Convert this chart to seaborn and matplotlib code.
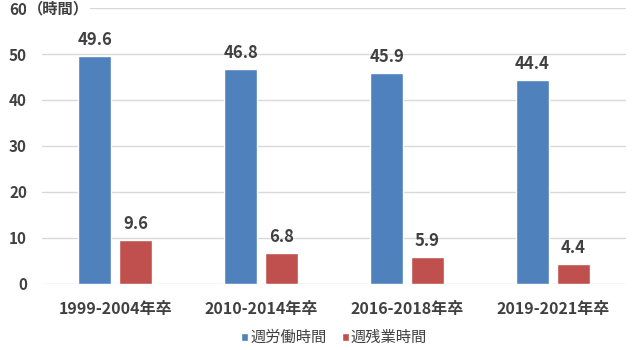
import matplotlib
matplotlib.use("Agg")
import matplotlib.pyplot as plt
import seaborn as sns
import pandas as pd

categories = ["1999-2004年卒", "2010-2014年卒", "2016-2018年卒", "2019-2021年卒"]
series_names = ["週労働時間", "週残業時間"]
work_hours = [49.6, 46.8, 45.9, 44.4]
overtime_hours = [9.6, 6.8, 5.9, 4.4]
y_ticks = [0, 10, 20, 30, 40, 50, 60]
unit_label = "（時間）"

sns.set_theme(style="white")
plt.rcParams['font.family'] = ['Noto Sans CJK JP', 'DejaVu Sans']

df = pd.DataFrame({
    "cat": categories * 2,
    "series": [series_names[0]] * 4 + [series_names[1]] * 4,
    "value": work_hours + overtime_hours,
})

fig = plt.figure(figsize=(6.4, 3.5), dpi=100)
ax = fig.add_axes([0.066, 0.189, 0.912, 0.788])
palette = {series_names[0]: "#4F81BD", series_names[1]: "#C0504D"}
sns.barplot(data=df, x="cat", y="value", hue="series", palette=palette,
            width=0.56, gap=0.2, ax=ax, saturation=1, legend=True, errorbar=None)

ax.set_ylim(0, 60)
ax.set_xlim(-0.5, 3.5)
ax.set_yticks(y_ticks)
ax.set_yticklabels([str(t) for t in y_ticks])
ax.yaxis.grid(True, color="#D9D9D9", linewidth=1)
ax.set_axisbelow(True)
for s in ax.spines.values():
    s.set_visible(False)
ax.set_xlabel("")
ax.set_ylabel("")
ax.tick_params(axis="both", length=0, colors="#404040")
for lab in ax.get_yticklabels():
    lab.set_fontsize(11)
    lab.set_fontweight("bold")
ax.tick_params(axis="y", pad=11)
for lab in ax.get_xticklabels():
    lab.set_fontsize(11.5)
    lab.set_fontweight("bold")
ax.tick_params(axis="x", pad=12)

ax.text(-0.6, 60, unit_label, fontsize=11, fontweight="bold", color="#404040",
        va="center", ha="left", bbox=dict(facecolor="white", edgecolor="none", pad=1))

for cont in ax.containers:
    ax.bar_label(cont, fmt="%.1f", padding=5, fontsize=12, fontweight="bold", color="#404040")

leg = ax.legend(loc="center", bbox_to_anchor=(0.5, -0.195), ncol=2, frameon=False,
                handlelength=0.45, handleheight=0.45, handletextpad=0.15, columnspacing=1.0,
                fontsize=11)
for t in leg.get_texts():
    t.set_color("#404040")

fig.savefig("out.png", dpi=100)
